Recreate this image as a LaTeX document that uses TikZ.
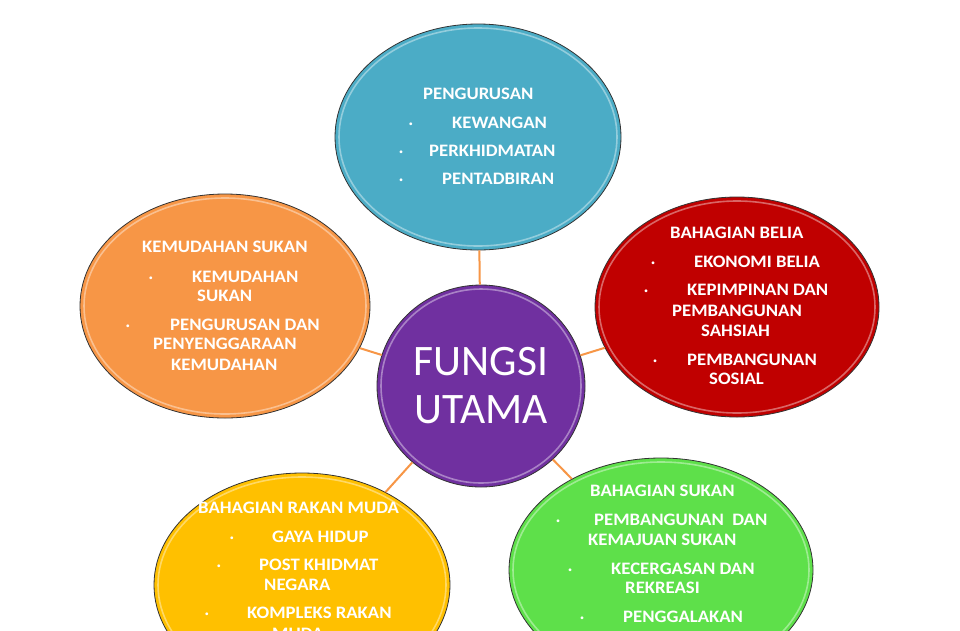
\documentclass[tikz,border=0pt]{standalone}
\usepackage{fontspec}
\setmainfont{Carlito}
\newfontfamily\widefont[FakeStretch=1.07]{Carlito}
\usetikzlibrary{shapes.geometric}
\definecolor{cblue}{RGB}{75,172,198}
\definecolor{corange}{RGB}{247,150,70}
\definecolor{cred}{RGB}{192,0,0}
\definecolor{cpurple}{RGB}{112,48,160}
\definecolor{cyellow}{RGB}{255,192,0}
\definecolor{cgreen}{RGB}{94,224,74}
\definecolor{linkc}{RGB}{247,150,70}
\begin{document}
\begin{tikzpicture}[x=1pt,y=-1pt,
  blob/.style={ellipse, draw=black!80, line width=0.8pt, inner sep=0pt},
  gloss/.style={draw=white, opacity=0.4, line width=1.6pt},
  link/.style={draw=linkc, line width=2pt},
  tx/.style={anchor=base west, inner sep=0pt, text=white, font=\widefont\fontsize{17.5}{20}\selectfont\bfseries},
  bul/.style={anchor=base, inner sep=0pt, text=white, font=\fontsize{15}{20}\selectfont\bfseries},
  big/.style={text=white, align=center, font=\fontsize{43.5}{48}\selectfont}
]
\useasboundingbox (0,0) rectangle (960,630);
\clip (0,0) rectangle (960,630);
\fill[white] (0,0) rectangle (960,630);

% ellipses
\node[blob, fill=cblue, minimum width=286pt, minimum height=226pt] (t) at (478,137) {};
\node[blob, fill=corange, minimum width=290pt, minimum height=224pt] (l) at (225,306) {};
\node[blob, fill=cred, minimum width=284pt, minimum height=220pt] (r) at (737,307) {};
\node[blob, fill=cyellow, minimum width=296pt, minimum height=224pt] (bl) at (302,585) {};
\node[blob, fill=cgreen, minimum width=304pt, minimum height=224pt] (br) at (661,570) {};
\node[blob, fill=cpurple, minimum width=208pt, minimum height=202pt, big] (c) at (481,386) {FUNGSI\\UTAMA};

% gloss rings
\draw[gloss] (478,137) ellipse [x radius=139, y radius=109];
\draw[gloss] (225,306) ellipse [x radius=141, y radius=108];
\draw[gloss] (737,307) ellipse [x radius=138, y radius=106];
\draw[gloss] (302,585) ellipse [x radius=144, y radius=108];
\draw[gloss] (661,570) ellipse [x radius=148, y radius=108];
\draw[gloss] (481,386) ellipse [x radius=100, y radius=97];

% connectors
\draw[link] (c) -- (t);
\draw[link] (c) -- (l);
\draw[link] (c) -- (r);
\draw[link] (c) -- (bl);
\draw[link] (c) -- (br);

% top texts
\node[tx] (t0) at (423,99) {PENGURUSAN};
\node[bul] (t1d) at (411,128) {·};
\node[tx] (t1) at (452,128) {KEWANGAN};
\node[bul] (t2d) at (401,156) {·};
\node[tx] (t2) at (429,156) {PERKHIDMATAN};
\node[bul] (t3d) at (401,184) {·};
\node[tx] (t3) at (442,184) {PENTADBIRAN};

% left texts
\node[tx] (l0) at (142,252) {KEMUDAHAN SUKAN};
\node[bul] (l1d) at (151,282) {·};
\node[tx] (l1) at (192,282) {KEMUDAHAN};
\node[tx] (l1b) at (197,301) {SUKAN};
\node[bul] (l2d) at (128,330) {·};
\node[tx] (l2) at (170,330) {PENGURUSAN DAN};
\node[tx] (l2b) at (153,349) {PENYENGGARAAN};
\node[tx] (l2c) at (171,370) {KEMUDAHAN};

% right texts
\node[tx] (r0) at (670,238) {BAHAGIAN BELIA};
\node[bul] (r1d) at (653,267) {·};
\node[tx] (r1) at (694,267) {EKONOMI BELIA};
\node[bul] (r2d) at (646,295) {·};
\node[tx] (r2) at (687,295) {KEPIMPINAN DAN};
\node[tx] (r2b) at (672,316) {PEMBANGUNAN};
\node[tx] (r2c) at (701,336) {SAHSIAH};
\node[bul] (r3d) at (655,365) {·};
\node[tx] (r3) at (687,365) {PEMBANGUNAN};
\node[tx] (r3b) at (709,384) {SOSIAL};

% bottom-left texts
\node[tx] (b0) at (198,513) {BAHAGIAN RAKAN MUDA};
\node[bul] (b1d) at (232,542) {·};
\node[tx] (b1) at (272,542) {GAYA HIDUP};
\node[bul] (b2d) at (219,570) {·};
\node[tx] (b2) at (259,570) {POST KHIDMAT};
\node[tx] (b2b) at (264,590) {NEGARA};
\node[bul] (b3d) at (207,618) {·};
\node[tx] (b3) at (247,618) {KOMPLEKS RAKAN};
\node[tx] (b3b) at (272,639) {MUDA};

% bottom-right texts
\node[tx] (g0) at (590,496) {BAHAGIAN SUKAN};
\node[bul] (g1d) at (558,525) {·};
\node[tx] (g1) at (594,525) {PEMBANGUNAN~ DAN};
\node[tx] (g1b) at (588,545) {KEMAJUAN SUKAN};
\node[bul] (g2d) at (570,574) {·};
\node[tx] (g2) at (611,574) {KECERGASAN DAN};
\node[tx] (g2b) at (625,593) {REKREASI};
\node[bul] (g3d) at (582,622) {·};
\node[tx] (g3) at (623,622) {PENGGALAKAN};
\end{tikzpicture}
\end{document}
